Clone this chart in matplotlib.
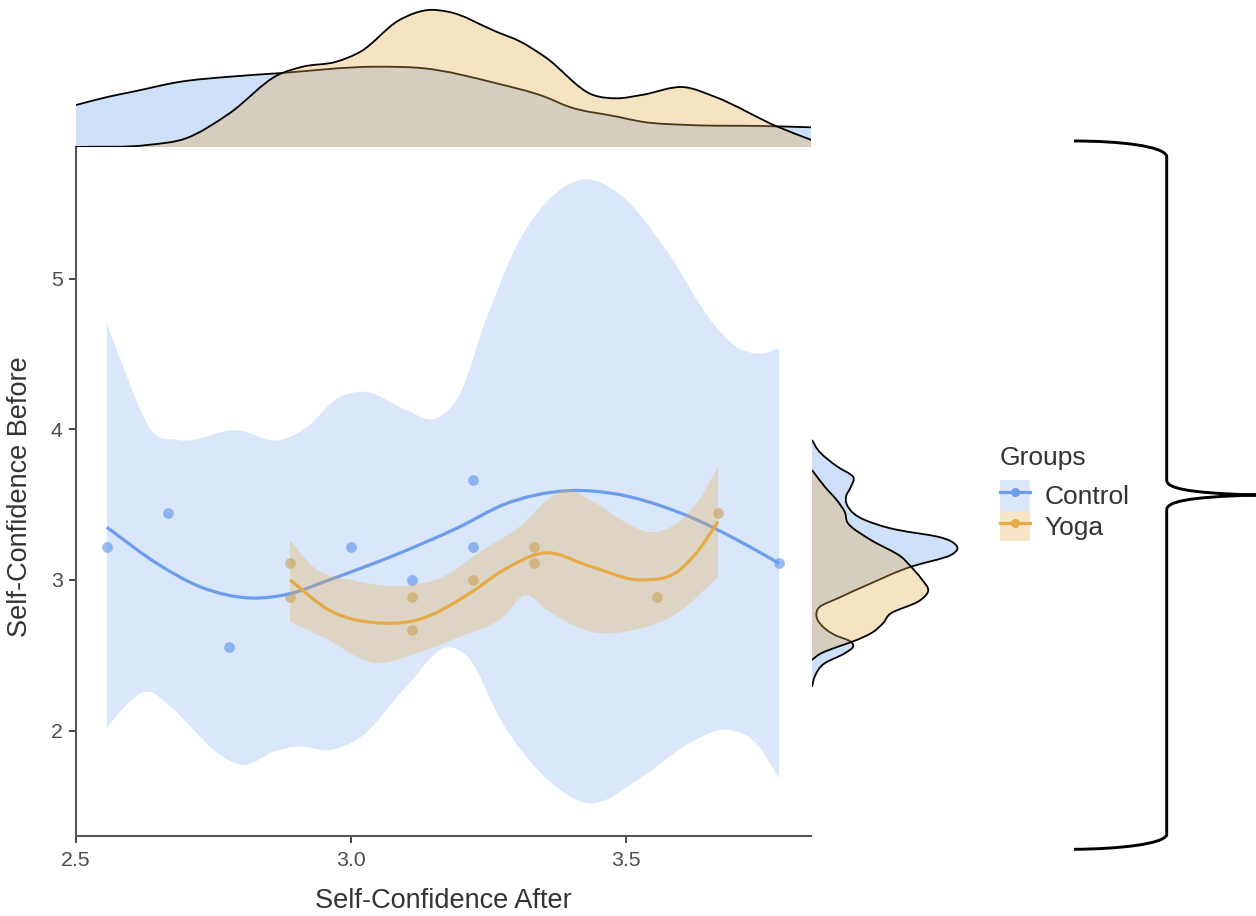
import numpy as np
import matplotlib
matplotlib.use("Agg")
import matplotlib.pyplot as plt
from matplotlib.path import Path
from matplotlib.patches import PathPatch, Patch
from matplotlib.lines import Line2D
from matplotlib.legend_handler import HandlerTuple

plt.rcParams['font.family'] = ['Liberation Sans', 'DejaVu Sans']

# ---------------- data ----------------
groups = ["Control", "Yoga"]
x_label = "Self-Confidence After"
y_label = "Self-Confidence Before"
x_ticks = [2.5, 3.0, 3.5]
y_ticks = [2, 3, 4, 5]

ctrl_x = [2.556, 2.667, 2.778, 3.0, 3.111, 3.222, 3.222, 3.778]
ctrl_y = [3.222, 3.444, 2.556, 3.222, 3.0, 3.667, 3.222, 3.111]
yoga_x = [2.889, 2.889, 3.111, 3.111, 3.222, 3.333, 3.333, 3.556, 3.667]
yoga_y = [3.111, 2.889, 2.889, 2.667, 3.0, 3.222, 3.111, 2.889, 3.444]

# loess fit of each group
ctrl_fit_x = [2.556, 2.647, 2.725, 2.82, 2.89, 2.96, 3.08, 3.198, 3.277, 3.396, 3.475, 3.593, 3.725, 3.778]
ctrl_fit_y = [3.35, 3.11, 2.956, 2.88, 2.91, 3.0, 3.166, 3.354, 3.5, 3.593, 3.575, 3.453, 3.22, 3.11]
yoga_fit_x = [2.889, 2.96, 3.056, 3.12, 3.215, 3.277, 3.353, 3.435, 3.53, 3.593, 3.632, 3.667]
yoga_fit_y = [3.0, 2.8, 2.714, 2.734, 2.91, 3.066, 3.18, 3.09, 3.0, 3.055, 3.2, 3.387]

# confidence band of each fit
ctrl_up_x = [2.556, 2.586, 2.612, 2.637, 2.685, 2.792, 2.873, 2.912, 2.98, 3.023, 3.1, 3.152, 3.195,
             3.247, 3.307, 3.358, 3.427, 3.487, 3.573, 3.659, 3.701, 3.744, 3.778]
ctrl_up_y = [4.70, 4.416, 4.17, 3.995, 3.93, 3.995, 3.93, 3.995, 4.216, 4.25, 4.13, 4.07, 4.216,
             4.747, 5.26, 5.52, 5.66, 5.566, 5.19, 4.70, 4.548, 4.504, 4.537]
ctrl_lo_x = [2.556, 2.586, 2.629, 2.672, 2.715, 2.757, 2.805, 2.86, 2.903, 2.963, 3.015, 3.1, 3.178,
             3.212, 3.272, 3.358, 3.431, 3.53, 3.615, 3.684, 3.736, 3.778]
ctrl_lo_y = [2.016, 2.149, 2.259, 2.16, 2.0, 1.85, 1.772, 1.86, 1.894, 1.872, 1.95, 2.29, 2.553,
             2.49, 2.07, 1.673, 1.518, 1.695, 1.916, 2.005, 1.916, 1.684]
yoga_up_x = [2.889, 2.93, 3.0, 3.11, 3.16, 3.24, 3.31, 3.356, 3.39, 3.435, 3.5, 3.538, 3.593, 3.632, 3.667]
yoga_up_y = [3.265, 3.09, 3.0, 2.967, 3.01, 3.2, 3.365, 3.53, 3.6, 3.53, 3.38, 3.32, 3.38, 3.53, 3.75]
yoga_lo_x = [2.889, 2.96, 3.04, 3.12, 3.198, 3.277, 3.316, 3.356, 3.435, 3.514, 3.593, 3.667]
yoga_lo_y = [2.723, 2.6, 2.45, 2.515, 2.624, 2.757, 2.9, 2.8, 2.657, 2.668, 2.78, 3.02]

# marginal density of x (top)
ctrl_dx_x = [2.50, 2.559, 2.603, 2.69, 2.779, 2.867, 3.044, 3.132, 3.264, 3.352, 3.396, 3.484,
             3.528, 3.616, 3.749, 3.837]
ctrl_dx_d = [0.512, 0.613, 0.674, 0.796, 0.857, 0.899, 0.979, 0.960, 0.777, 0.613, 0.491, 0.370,
             0.309, 0.268, 0.256, 0.240]
yoga_dx_x = [2.50, 2.629, 2.70, 2.779, 2.867, 2.912, 2.973, 3.017, 3.088, 3.141, 3.176, 3.264,
             3.308, 3.352, 3.44, 3.484, 3.528, 3.608, 3.661, 3.775, 3.837]
yoga_dx_d = [0.0, 0.024, 0.106, 0.411, 0.878, 0.979, 1.040, 1.162, 1.549, 1.671, 1.650, 1.406,
             1.284, 1.101, 0.634, 0.594, 0.634, 0.728, 0.613, 0.248, 0.085]

# marginal density of y (right)
ctrl_dy_y = [3.93, 3.863, 3.75, 3.686, 3.62, 3.553, 3.486, 3.398, 3.332, 3.287, 3.232, 3.166, 3.088,
             2.978, 2.879, 2.823, 2.768, 2.70, 2.635, 2.59, 2.557, 2.514, 2.447, 2.358, 2.29]
ctrl_dy_d = [0.0, 0.082, 0.356, 0.562, 0.534, 0.466, 0.493, 0.726, 1.178, 1.726, 1.973, 1.904, 1.356,
             0.808, 0.356, 0.110, 0.060, 0.129, 0.311, 0.534, 0.562, 0.452, 0.174, 0.037, 0.0]
yoga_dy_y = [3.73, 3.62, 3.52, 3.453, 3.376, 3.265, 3.155, 3.088, 3.011, 2.922, 2.856, 2.779,
             2.713, 2.646, 2.597, 2.557, 2.514, 2.47]
yoga_dy_d = [0.0, 0.174, 0.356, 0.448, 0.493, 0.808, 1.219, 1.356, 1.493, 1.589, 1.452, 1.082,
             0.973, 0.808, 0.589, 0.356, 0.129, 0.0]

# ---------------- styles ----------------
CTRL = "#6D9EEB"
YOGA = "#E6AB48"
W, H = 1256, 916


def bezier_fn(t, v):
    """Bezier pieces (in (t, v) space) of a C1 curve through the points, parameterised by t."""
    t = np.asarray(t, float)
    v = np.asarray(v, float)
    n = len(t)
    h = np.diff(t)
    s = np.diff(v) / h
    m = np.empty(n)
    m[0] = s[0]
    m[-1] = s[-1]
    for i in range(1, n - 1):
        m[i] = (s[i] * h[i - 1] + s[i - 1] * h[i]) / (h[i - 1] + h[i])
    verts = [(t[0], v[0])]
    codes = [Path.MOVETO]
    for i in range(n - 1):
        verts += [(t[i] + h[i] / 3, v[i] + m[i] * h[i] / 3),
                  (t[i + 1] - h[i] / 3, v[i + 1] - m[i + 1] * h[i] / 3),
                  (t[i + 1], v[i + 1])]
        codes += [Path.CURVE4] * 3
    return verts, codes


def smooth(xs, ys, vertical=False):
    if vertical:  # density (xs) as a function of value (ys)
        v, c = bezier_fn(ys, xs)
        v = [(b, a) for a, b in v]
    else:
        v, c = bezier_fn(xs, ys)
    return v, c


def band_path(ux, uy, lx, ly):
    v1, c1 = smooth(ux, uy)
    v2, c2 = smooth(lx[::-1], ly[::-1])
    c2 = [Path.LINETO] + c2[1:]
    return Path(v1 + v2 + [v1[0]], c1 + c2 + [Path.CLOSEPOLY])


def area_path(xs, ds, vertical=False):
    if vertical:
        v, c = smooth(ds, xs, vertical=True)
        v = v + [(0.0, xs[-1]), (0.0, xs[0]), v[0]]
    else:
        v, c = smooth(xs, ds)
        v = v + [(xs[-1], 0.0), (xs[0], 0.0), v[0]]
    return Path(v, c + [Path.LINETO, Path.LINETO, Path.CLOSEPOLY])


def line_path(xs, ys, vertical=False):
    v, c = smooth(xs, ys, vertical)
    return Path(v, c)


fig = plt.figure(figsize=(W / 100, H / 100), dpi=100)


def px_axes(x0, y0, x1, y1):
    return fig.add_axes([x0 / W, 1 - y1 / H, (x1 - x0) / W, (y1 - y0) / H])


ax = px_axes(76, 147, 811, 836)
ax_top = px_axes(76, 0, 811, 147)
ax_right = px_axes(812, 147, 975, 836)

# ---------------- main scatter + smooth ----------------
ax.set_xlim(2.5, 3.836)
ax.set_ylim(1.30, 5.875)

ax.scatter(ctrl_x, ctrl_y, s=60, color=CTRL, alpha=0.7, linewidths=0, zorder=1)
ax.scatter(yoga_x, yoga_y, s=60, color=YOGA, alpha=0.7, linewidths=0, zorder=1)

for (ux, uy, lx, ly, fx, fy, col, a, z) in [
        (ctrl_up_x, ctrl_up_y, ctrl_lo_x, ctrl_lo_y, ctrl_fit_x, ctrl_fit_y, CTRL, 0.25, 2),
        (yoga_up_x, yoga_up_y, yoga_lo_x, yoga_lo_y, yoga_fit_x, yoga_fit_y, YOGA, 0.3, 4)]:
    ax.add_patch(PathPatch(band_path(ux, uy, lx, ly), facecolor=col, alpha=a,
                           edgecolor='none', zorder=z))
    ax.add_patch(PathPatch(line_path(fx, fy), facecolor='none', edgecolor=col, lw=2.3,
                           capstyle='butt', zorder=z + 1))

ax.set_xticks(x_ticks)
ax.set_xticklabels([f"{t:.1f}" for t in x_ticks])
ax.set_yticks(y_ticks)
ax.set_yticklabels([str(t) for t in y_ticks])
for s in ['top', 'right']:
    ax.spines[s].set_visible(False)
for s in ['left', 'bottom']:
    ax.spines[s].set_color('#555555')
    ax.spines[s].set_linewidth(1.5)
ax.tick_params(axis='both', direction='out', length=5, width=1.4, color='#444444',
               labelsize=15.3, labelcolor='#4D4D4D')
ax.tick_params(axis='x', pad=6)
ax.tick_params(axis='y', pad=4.5)
ax.set_xlabel(x_label, fontsize=19.5, color='#333333', va='center')
ax.xaxis.set_label_coords(0.5, (836 - 901.5) / 689)
ax.set_ylabel(y_label, fontsize=19.5, color='#333333', va='center', ha='center')
ax.yaxis.set_label_coords((20 - 76) / 735, (836 - 496.5) / 689)
ax.set_facecolor('none')

# ---------------- top marginal density ----------------
ax_top.set_xlim(ax.get_xlim())
ax_top.set_ylim(0, 147 / 82)
for xs, ds, col in [(ctrl_dx_x, ctrl_dx_d, CTRL), (yoga_dx_x, yoga_dx_d, YOGA)]:
    ax_top.add_patch(PathPatch(area_path(xs, ds), facecolor=col, alpha=0.33, edgecolor='none'))
    ax_top.add_patch(PathPatch(line_path(xs, ds), facecolor='none', edgecolor='black', lw=1.3))
ax_top.axis('off')

# ---------------- right marginal density ----------------
ax_right.set_ylim(ax.get_ylim())
ax_right.set_xlim(0, 163 / 73)
for ys, ds, col in [(ctrl_dy_y, ctrl_dy_d, CTRL), (yoga_dy_y, yoga_dy_d, YOGA)]:
    ax_right.add_patch(PathPatch(area_path(ys, ds, vertical=True), facecolor=col, alpha=0.33,
                                 edgecolor='none'))
    ax_right.add_patch(PathPatch(line_path(ds, ys, vertical=True), facecolor='none',
                                 edgecolor='black', lw=1.3))
ax_right.axis('off')

# ---------------- legend ----------------
handles = []
for col, a in [(CTRL, 0.25), (YOGA, 0.3)]:
    handles.append((Patch(facecolor=col, alpha=a, edgecolor='none'),
                    Line2D([0], [0], color=col, lw=2.3, marker='o', markersize=6.5,
                           markeredgewidth=0)))
leg = fig.legend(handles, groups, title="Groups", loc='upper left',
                 bbox_to_anchor=(1000 / W, 1 - 446 / H), frameon=False,
                 fontsize=19, title_fontsize=19, handlelength=1.14, handleheight=1.42,
                 labelspacing=0.0, handletextpad=0.55, borderpad=0, borderaxespad=0,
                 alignment='left', handler_map={tuple: HandlerTuple(ndivide=1, pad=0)})
leg._legend_box.sep = 7
leg.get_title().set_color('#333333')
for t in leg.get_texts():
    t.set_color('#333333')

# ---------------- curly brace annotation ----------------
def fp(x, y):
    return (x / W, 1 - y / H)

brace = Path([fp(1074, 141), fp(1120, 141), fp(1163, 146), fp(1166.7, 156),
              fp(1166.7, 480),
              fp(1166.7, 488), fp(1185, 493), fp(1256, 495),
              fp(1185, 497), fp(1166.7, 502), fp(1166.7, 510),
              fp(1166.7, 835),
              fp(1163, 844), fp(1120, 849), fp(1074, 849.3)],
             [Path.MOVETO, Path.CURVE4, Path.CURVE4, Path.CURVE4,
              Path.LINETO,
              Path.CURVE4, Path.CURVE4, Path.CURVE4,
              Path.CURVE4, Path.CURVE4, Path.CURVE4,
              Path.LINETO,
              Path.CURVE4, Path.CURVE4, Path.CURVE4])
fig.add_artist(PathPatch(brace, transform=fig.transFigure, facecolor='none', edgecolor='black',
                         lw=2.1, capstyle='butt', joinstyle='round'))

fig.savefig("out.png", dpi=100)
